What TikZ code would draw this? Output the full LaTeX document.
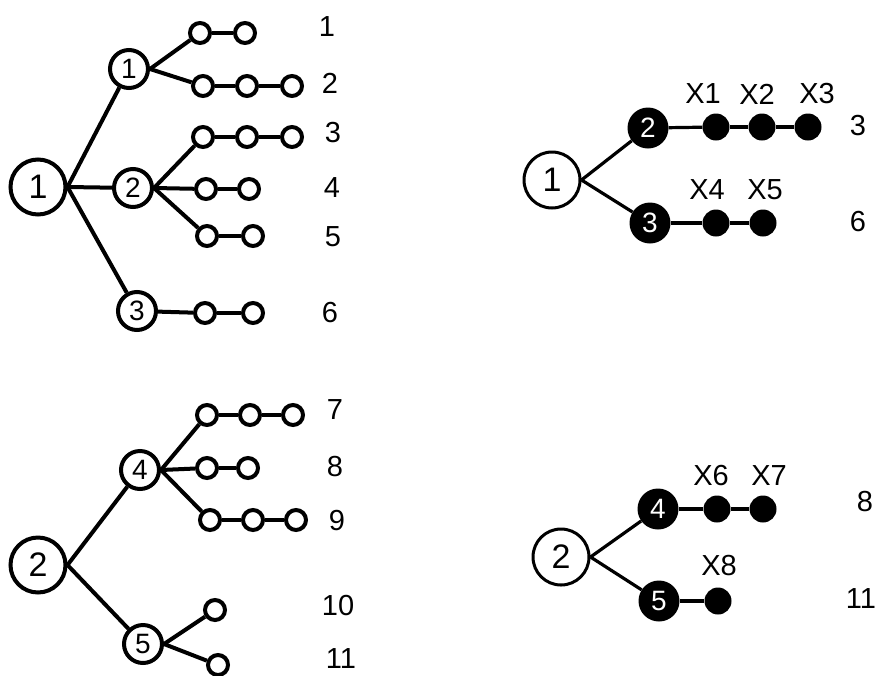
\documentclass[tikz,border=0pt]{standalone}
\usepackage{fontspec}
\setmainfont{Liberation Sans}
\begin{document}
\begin{tikzpicture}[x=1pt,y=-1pt,
    big/.style={circle,draw,line width=4pt,fill=white,inner sep=0pt,minimum size=55pt,font=\fontsize{34}{34}\selectfont},
    mid/.style={circle,draw,line width=4pt,fill=white,inner sep=0pt,minimum size=38pt,font=\fontsize{28}{28}\selectfont},
    blk/.style={circle,fill=black,text=white,inner sep=0pt,minimum size=41pt,font=\fontsize{28}{28}\selectfont},
    leaf/.style={circle,draw,line width=4pt,fill=white,inner sep=0pt,minimum size=20pt},
    dot/.style={circle,fill=black,inner sep=0pt,minimum size=27pt},
    lbl/.style={inner sep=0pt,font=\fontsize{29}{29}\selectfont},
    edge/.style={line width=4pt},
    thinedge/.style={line width=3.2pt}]
    \clip (0,0) rectangle (877,675);

    % top left tree
    \node[big] (a) at (38,187) {1};
    \node[mid] (a1) at (129,69) {1};
    \node[mid] (a2) at (133,188) {2};
    \node[mid] (a3) at (137,311) {3};
    \foreach \n/\x/\y in {l11/200/33, l12/245/33,
                          l21/203/86, l22/247/86, l23/292/86,
                          l31/203/137, l32/247/137, l33/292/137,
                          l41/206/189, l42/249/189,
                          l51/207/236, l52/253/236,
                          l61/205/313, l62/253/313}
    {   \node[leaf] (\n) at (\x,\y) {};
    }
    \foreach \n/\x/\y/\t in {ta1/327/27/1, ta2/330/83/2, ta3/333/133/3,
                             ta4/332/188/4, ta5/333/237/5, ta6/330/313/6}
    {   \node[lbl] (\n) at (\x,\y) {\t};
    }
    \foreach \p/\q in {a.east/a1, a.east/a2, a.east/a3,
                       a1.east/l11, l11/l12, a1.east/l21, l21/l22, l22/l23,
                       a2.east/l31, l31/l32, l32/l33, a2.east/l41, l41/l42,
                       a2.east/l51, l51/l52, a3/l61, l61/l62}
    {   \draw[edge] (\p) -- (\q);
    }

    % top right tree
    \node[big,line width=3pt,minimum size=56pt] (b) at (552,180) {1};
    \node[blk] (b2) at (648,128) {2};
    \node[blk] (b3) at (650,223) {3};
    \foreach \n/\x/\y in {x1/716/127, x2/762/127, x3/808/127, x4/716/223, x5/763/223}
    {   \node[dot] (\n) at (\x,\y) {};
    }
    \foreach \n/\x/\y/\t in {tx1/703/94/X1, tx2/757/94/X2, tx3/817/94/X3,
                             tx4/707/190/X4, tx5/765/190/X5,
                             tb3/858/126/3, tb6/858/222/6}
    {   \node[lbl] (\n) at (\x,\y) {\t};
    }
    \foreach \p/\q in {b.east/b2, b.east/b3, b2/x1, x1/x2, x2/x3, b3/x4, x4/x5}
    {   \draw[thinedge] (\p) -- (\q);
    }

    % bottom left tree
    \node[big] (c) at (38,565) {2};
    \node[mid] (c4) at (140,470) {4};
    \node[mid] (c5) at (143,644) {5};
    \foreach \n/\x/\y in {l71/207/415, l72/250/415, l73/293/415,
                          l81/207/468, l82/248/468,
                          l91/210/520, l92/253/520, l93/296/520,
                          l101/215/610, l111/218/665}
    {   \node[leaf] (\n) at (\x,\y) {};
    }
    \foreach \n/\x/\y/\t in {tc7/335/410/7, tc8/335/467/8, tc9/337/521/9,
                             tc10/338/606/10, tc11/341/659/11}
    {   \node[lbl] (\n) at (\x,\y) {\t};
    }
    \foreach \p/\q in {c.east/c4, c.east/c5,
                       c4.east/l71, l71/l72, l72/l73, c4.east/l81, l81/l82,
                       c4.east/l91, l91/l92, l92/l93,
                       c5.east/l101, c5.east/l111}
    {   \draw[edge] (\p) -- (\q);
    }

    % bottom right tree
    \node[big,line width=3pt,minimum size=56pt] (d) at (561,557) {2};
    \node[blk] (d4) at (658,509) {4};
    \node[blk] (d5) at (659,601) {5};
    \foreach \n/\x/\y in {x6/717/509, x7/763/509, x8/718/601}
    {   \node[dot] (\n) at (\x,\y) {};
    }
    \foreach \n/\x/\y/\t in {tx6/711/476/X6, tx7/769/476/X7, tx8/719/566/X8,
                             td8/865/502/8, td11/861/599/11}
    {   \node[lbl] (\n) at (\x,\y) {\t};
    }
    \foreach \p/\q in {d.east/d4, d.east/d5, d4/x6, x6/x7, d5/x8}
    {   \draw[thinedge] (\p) -- (\q);
    }
\end{tikzpicture}
\end{document}
